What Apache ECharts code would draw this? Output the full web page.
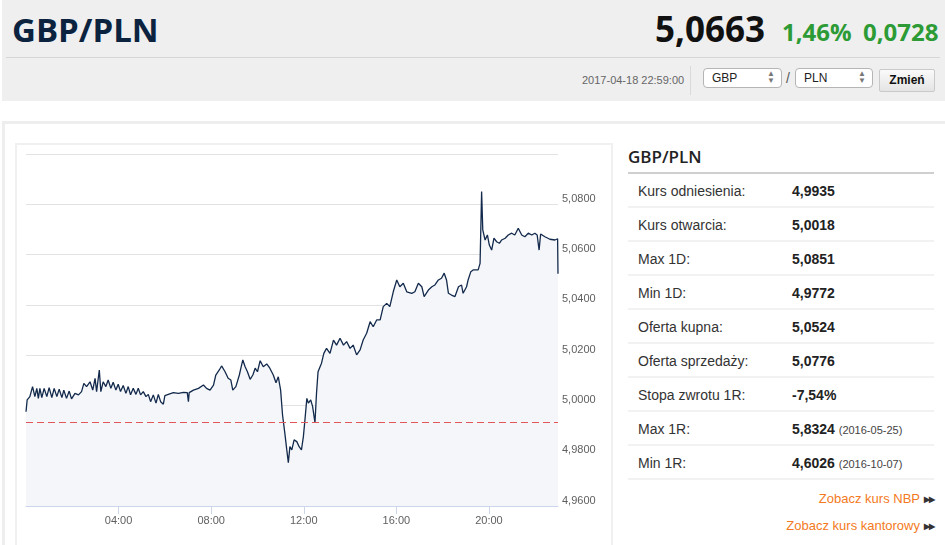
<!DOCTYPE html>
<html>
<head>
<meta charset="utf-8">
<script src="https://cdn.jsdelivr.net/npm/echarts@6/dist/echarts.min.js"></script>
<style>
  body { margin: 0; width: 945px; height: 545px; overflow: hidden; background: #fff; font-family: "Liberation Sans", Arial, sans-serif; position: relative; }
  .abs { position: absolute; }
  #head { left: 2px; top: 0; width: 943px; height: 101px; background: #efefef; }
  #title { left: 12px; top: 7px; font: 700 33px "Open Sans", sans-serif; color: #0c2340; }
  #price { right: 180px; top: 5px; font: 700 35px "Open Sans", sans-serif; color: #111; }
  .chg { top: 15px; font: 700 24px "Open Sans", sans-serif; color: #2d9b35; }
  #hline { left: 6px; top: 57px; width: 934px; height: 1px; background: #d6d6d6; }
  #stamp { left: 582px; top: 74px; font-size: 11px; color: #666; }
  #vsep { left: 690px; top: 66px; width: 1px; height: 29px; background: #dadada; }
  .sel { top: 68px; height: 20px; border: 1px solid #b5b5b5; border-radius: 4px; background: #fff; box-sizing: border-box; font-size: 12px; color: #222; padding: 2px 0 0 8px; }
  .sel span { position: absolute; right: 6px; top: 1px; font-size: 8px; color: #777; line-height: 7px; }
  #slash { left: 786px; top: 70px; font-size: 14px; color: #555; }
  #btn { left: 879px; top: 69px; width: 56px; height: 23px; border: 1px solid #c9c9c9; border-radius: 2px; background: linear-gradient(#fafafa, #e4e4e4); box-sizing: border-box; font-weight: 700; font-size: 12px; text-align: center; line-height: 21px; color: #111; }
  #panel { left: 2px; top: 121px; width: 943px; height: 440px; border: 3px solid #eeeeee; border-right: none; box-sizing: border-box; }
  #box { left: 15px; top: 143px; width: 598px; height: 420px; border: 2px solid #f0f0f0; box-sizing: border-box; }
  #main { left: 17px; top: 145px; width: 594px; height: 400px; }
  #tt { left: 628px; top: 145px; font: 600 17px "Open Sans", sans-serif; color: #222; }
  #tline { left: 628px; top: 172px; width: 306px; height: 2px; background: #cfcfcf; }
  .row { left: 628px; width: 306px; height: 34px; border-bottom: 2px solid #f2f2f2; box-sizing: border-box; font-size: 14px; color: #333; }
  .row .k { position: absolute; left: 10px; top: 9px; }
  .row .v { position: absolute; left: 164px; top: 9px; font-weight: 700; color: #222; }
  .row .v small { font-weight: 400; font-size: 11px; color: #444; }
  .lnk { right: 11px; font-size: 13px; color: #f47a22; }
  .lnk b { font-size: 8px; color: #333; letter-spacing: -1px; margin-left: 4px; vertical-align: 1px; }
</style>
</head>
<body>
<div id="head" class="abs"></div>
<div id="title" class="abs">GBP/PLN</div>
<div id="price" class="abs">5,0663</div>
<div class="abs chg" style="left:782px">1,46%</div>
<div class="abs chg" style="left:863px">0,0728</div>
<div id="hline" class="abs"></div>
<div id="stamp" class="abs">2017-04-18 22:59:00</div>
<div id="vsep" class="abs"></div>
<div class="abs sel" style="left:703px;width:79px">GBP<span>&#9650;<br>&#9660;</span></div>
<div id="slash" class="abs">/</div>
<div class="abs sel" style="left:795px;width:78px">PLN<span>&#9650;<br>&#9660;</span></div>
<div id="btn" class="abs">Zmień</div>
<div id="panel" class="abs"></div>
<div id="box" class="abs"></div>
<div id="main" class="abs"></div>
<div id="tt" class="abs">GBP/PLN</div>
<div id="tline" class="abs"></div>
<div id="rows"></div>
<div class="abs lnk" style="top:491px">Zobacz kurs NBP<b>&#9654;&#9654;</b></div>
<div class="abs lnk" style="top:518px">Zobacz kurs kantorowy<b>&#9654;&#9654;</b></div>
<script>
// kurs odniesienia (linia przerywana)
const refRate = 4.9935;
// notowania GBP/PLN 2017-04-18, minuty od północy
const minutes = [
  0, 3, 10, 17, 23, 28, 32, 36, 41, 47, 54, 60, 67, 73, 80, 86, 93, 98, 105, 112,
  118, 127, 136, 144, 150, 157, 166, 173, 179, 183, 190, 194, 200, 207, 213, 220, 226, 233, 239, 245,
  252, 259, 265, 271, 278, 285, 291, 297, 304, 311, 317, 323, 330, 337, 343, 349, 356, 360, 369, 382,
  395, 408, 418, 421, 423, 434, 447, 460, 468, 477, 486, 492, 501, 507, 516, 524, 531, 536, 544, 553,
  557, 562, 568, 574, 581, 588, 594, 600, 607, 615, 624, 632, 641, 648, 654, 660, 665, 671, 676, 680,
  684, 689, 695, 702, 708, 714, 719, 723, 728, 732, 738, 743, 749, 753, 757, 762, 766, 772, 779, 788,
  797, 805, 814, 823, 831, 840, 848, 857, 866, 874, 883, 892, 900, 909, 918, 926, 935, 943, 952, 961,
  969, 978, 987, 1000, 1008, 1017, 1026, 1032, 1043, 1052, 1060, 1069, 1077, 1084, 1090, 1095, 1103, 1112, 1121, 1129,
  1133, 1142, 1146, 1153, 1159, 1172, 1177, 1181, 1184, 1190, 1196, 1201, 1207, 1213, 1220, 1227, 1233, 1242, 1250, 1259,
  1267, 1276, 1285, 1293, 1302, 1311, 1319, 1325, 1330, 1334, 1345, 1358, 1371, 1378, 1379
];
const rates = [
  4.9975, 5.0022, 5.0035, 5.0075, 5.0035, 5.0068, 5.0028, 5.0068, 5.0031, 5.0068, 5.0035, 5.0071, 5.0031, 5.0068, 5.0035, 5.0065, 5.0031, 5.0061, 5.0028, 5.0057,
  5.0026, 5.0048, 5.0042, 5.0055, 5.0088, 5.0075, 5.0094, 5.0061, 5.0108, 5.0055, 5.0141, 5.0055, 5.0094, 5.0075, 5.0101, 5.0068, 5.0092, 5.0061, 5.0084, 5.0055,
  5.0079, 5.0048, 5.0075, 5.0042, 5.0068, 5.0044, 5.0068, 5.0042, 5.0055, 5.0035, 5.0044, 5.0015, 5.0042, 5.0009, 5.0044, 5.0015, 5.0005, 5.0039, 5.0044, 5.0051,
  5.0048, 5.0052, 5.0051, 5.0015, 5.0051, 5.0061, 5.0068, 5.0081, 5.0068, 5.0061, 5.0081, 5.0121, 5.0141, 5.0157, 5.0134, 5.0108, 5.0101, 5.0061, 5.0075, 5.0121,
  5.0148, 5.0181, 5.0154, 5.0134, 5.0104, 5.0121, 5.0148, 5.0134, 5.0178, 5.0154, 5.0165, 5.0148, 5.0121, 5.0090, 5.0114, 5.0061, 4.9962, 4.9889, 4.9823, 4.9772,
  4.9836, 4.9823, 4.9863, 4.9856, 4.9836, 4.9823, 4.9876, 4.9942, 5.0028, 5.0009, 5.0022, 4.9995, 4.9931, 5.0048, 5.0134, 5.0141, 5.0168, 5.0207, 5.0227, 5.0207,
  5.0260, 5.0240, 5.0267, 5.0240, 5.0254, 5.0227, 5.0240, 5.0201, 5.0221, 5.0260, 5.0287, 5.0333, 5.0313, 5.0340, 5.0340, 5.0393, 5.0406, 5.0393, 5.0452, 5.0499,
  5.0472, 5.0486, 5.0452, 5.0446, 5.0452, 5.0486, 5.0472, 5.0433, 5.0459, 5.0472, 5.0479, 5.0499, 5.0506, 5.0526, 5.0499, 5.0446, 5.0439, 5.0433, 5.0472, 5.0479,
  5.0446, 5.0472, 5.0499, 5.0532, 5.0539, 5.0539, 5.0565, 5.0851, 5.0698, 5.0658, 5.0678, 5.0638, 5.0618, 5.0665, 5.0651, 5.0645, 5.0658, 5.0665, 5.0678, 5.0685,
  5.0678, 5.0705, 5.0678, 5.0671, 5.0685, 5.0678, 5.0685, 5.0678, 5.0618, 5.0682, 5.0671, 5.0661, 5.0658, 5.0663, 5.0524
];
// tabelka po prawej
const statLabels = ['Kurs odniesienia:', 'Kurs otwarcia:', 'Max 1D:', 'Min 1D:', 'Oferta kupna:', 'Oferta sprzedaży:', 'Stopa zwrotu 1R:', 'Max 1R:', 'Min 1R:'];
const statValues = ['4,9935', '5,0018', '5,0851', '4,9772', '5,0524', '5,0776', '-7,54%', '5,8324', '4,6026'];
const statDates = ['', '', '', '', '', '', '', '2016-05-25', '2016-10-07'];

var rowsHtml = '';
for (var i = 0; i < statLabels.length; i++) {
    rowsHtml += '<div class="abs row" style="top:' + (174 + i * 34) + 'px">' +
        '<span class="k">' + statLabels[i] + '</span>' +
        '<span class="v">' + statValues[i] + (statDates[i] ? ' <small>(' + statDates[i] + ')</small>' : '') + '</span></div>';
}
document.getElementById('rows').innerHTML = rowsHtml;

var points = [];
for (var i = 0; i < minutes.length; i++) {
    points.push([minutes[i], rates[i]]);
}

function hhmm(m) {
    var h = Math.floor(m / 60), mm = m % 60;
    return (h < 10 ? '0' : '') + h + ':' + (mm < 10 ? '0' : '') + mm;
}

var myChart = echarts.init(document.getElementById('main'));
var labelFont = { color: '#606060', fontSize: 11, fontFamily: 'Liberation Sans, Arial, sans-serif' };
var option = {
    animation: false,
    grid: { left: 9, right: 53, top: 9, bottom: 39, containLabel: false, outerBoundsMode: 'none' },
    xAxis: {
        type: 'value',
        min: 0,
        max: 1379,
        interval: 240,
        axisLine: { lineStyle: { color: '#ccd6eb' } },
        axisTick: { show: true, length: 8, customValues: [240, 480, 720, 960, 1200], lineStyle: { color: '#ccd6eb' } },
        axisLabel: Object.assign({ margin: 9, customValues: [240, 480, 720, 960, 1200], formatter: hhmm }, labelFont),
        splitLine: { show: false }
    },
    yAxis: {
        type: 'value',
        position: 'right',
        min: 4.96,
        max: 5.1,
        interval: 0.02,
        axisLine: { show: false },
        axisTick: { show: false },
        axisLabel: Object.assign({
            margin: 4,
            verticalAlign: 'bottom',
            showMaxLabel: false,
            formatter: function (v) { return v.toFixed(4).replace('.', ','); }
        }, labelFont),
        splitLine: { lineStyle: { color: '#e2e2e2', width: 1 } }
    },
    series: [{
        type: 'line',
        data: points,
        showSymbol: false,
        symbol: 'none',
        lineStyle: { color: '#132a4c', width: 1.3 },
        areaStyle: { color: '#f4f6f9', opacity: 1, origin: 'start' },
        markLine: {
            silent: true,
            symbol: 'none',
            precision: 4,
            label: { show: false },
            lineStyle: { color: '#e0585a', type: [7, 4], width: 1 },
            data: [{ yAxis: refRate }]
        }
    }]
};
myChart.setOption(option);
</script>
</body>
</html>
